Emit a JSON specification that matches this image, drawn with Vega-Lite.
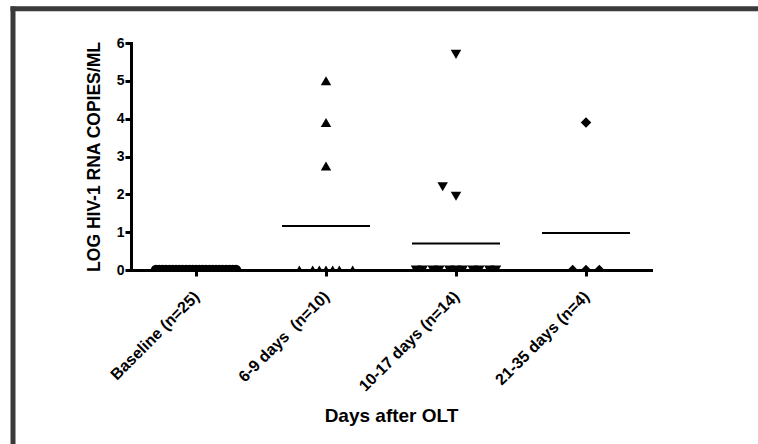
{
  "$schema": "https://vega.github.io/schema/vega-lite/v6.json",
  "width": 758,
  "height": 444,
  "autosize": {"type": "none"},
  "padding": 0,
  "background": "white",
  "config": {
    "view": {"fill": "white", "stroke": null},
    "font": "Liberation Sans",
    "axis": {
      "domainColor": "black", "domainWidth": 3, "tickColor": "black", "tickWidth": 3,
      "labelColor": "black", "titleColor": "black", "labelFontWeight": "bold",
      "titleFontWeight": "bold", "grid": false, "domainCap": "square"
    }
  },
  "datasets": {
    "pts": [
      {"group": "Baseline (n=25)", "log_rna": 0, "jitter": -12},
      {"group": "Baseline (n=25)", "log_rna": 0, "jitter": -11},
      {"group": "Baseline (n=25)", "log_rna": 0, "jitter": -10},
      {"group": "Baseline (n=25)", "log_rna": 0, "jitter": -9},
      {"group": "Baseline (n=25)", "log_rna": 0, "jitter": -8},
      {"group": "Baseline (n=25)", "log_rna": 0, "jitter": -7},
      {"group": "Baseline (n=25)", "log_rna": 0, "jitter": -6},
      {"group": "Baseline (n=25)", "log_rna": 0, "jitter": -5},
      {"group": "Baseline (n=25)", "log_rna": 0, "jitter": -4},
      {"group": "Baseline (n=25)", "log_rna": 0, "jitter": -3},
      {"group": "Baseline (n=25)", "log_rna": 0, "jitter": -2},
      {"group": "Baseline (n=25)", "log_rna": 0, "jitter": -1},
      {"group": "Baseline (n=25)", "log_rna": 0, "jitter": 0},
      {"group": "Baseline (n=25)", "log_rna": 0, "jitter": 1},
      {"group": "Baseline (n=25)", "log_rna": 0, "jitter": 2},
      {"group": "Baseline (n=25)", "log_rna": 0, "jitter": 3},
      {"group": "Baseline (n=25)", "log_rna": 0, "jitter": 4},
      {"group": "Baseline (n=25)", "log_rna": 0, "jitter": 5},
      {"group": "Baseline (n=25)", "log_rna": 0, "jitter": 6},
      {"group": "Baseline (n=25)", "log_rna": 0, "jitter": 7},
      {"group": "Baseline (n=25)", "log_rna": 0, "jitter": 8},
      {"group": "Baseline (n=25)", "log_rna": 0, "jitter": 9},
      {"group": "Baseline (n=25)", "log_rna": 0, "jitter": 10},
      {"group": "Baseline (n=25)", "log_rna": 0, "jitter": 11},
      {"group": "Baseline (n=25)", "log_rna": 0, "jitter": 12},
      {"group": "6-9 days \u00a0(n=10)", "log_rna": 5.0, "jitter": 0},
      {"group": "6-9 days \u00a0(n=10)", "log_rna": 3.9, "jitter": 0},
      {"group": "6-9 days \u00a0(n=10)", "log_rna": 2.75, "jitter": 0},
      {"group": "6-9 days \u00a0(n=10)", "log_rna": 0, "jitter": -8},
      {"group": "6-9 days \u00a0(n=10)", "log_rna": 0, "jitter": -4},
      {"group": "6-9 days \u00a0(n=10)", "log_rna": 0, "jitter": -2},
      {"group": "6-9 days \u00a0(n=10)", "log_rna": 0, "jitter": 0},
      {"group": "6-9 days \u00a0(n=10)", "log_rna": 0, "jitter": 2},
      {"group": "6-9 days \u00a0(n=10)", "log_rna": 0, "jitter": 4},
      {"group": "6-9 days \u00a0(n=10)", "log_rna": 0, "jitter": 8},
      {"group": "10-17 days (n=14)", "log_rna": 5.7, "jitter": 0},
      {"group": "10-17 days (n=14)", "log_rna": 2.2, "jitter": -4},
      {"group": "10-17 days (n=14)", "log_rna": 1.95, "jitter": 0},
      {"group": "10-17 days (n=14)", "log_rna": 0, "jitter": -12},
      {"group": "10-17 days (n=14)", "log_rna": 0, "jitter": -10},
      {"group": "10-17 days (n=14)", "log_rna": 0, "jitter": -7},
      {"group": "10-17 days (n=14)", "log_rna": 0, "jitter": -5},
      {"group": "10-17 days (n=14)", "log_rna": 0, "jitter": -2},
      {"group": "10-17 days (n=14)", "log_rna": 0, "jitter": 0},
      {"group": "10-17 days (n=14)", "log_rna": 0, "jitter": 2},
      {"group": "10-17 days (n=14)", "log_rna": 0, "jitter": 5},
      {"group": "10-17 days (n=14)", "log_rna": 0, "jitter": 7},
      {"group": "10-17 days (n=14)", "log_rna": 0, "jitter": 10},
      {"group": "10-17 days (n=14)", "log_rna": 0, "jitter": 12},
      {"group": "21-35 days (n=4)", "log_rna": 3.9, "jitter": 0},
      {"group": "21-35 days (n=4)", "log_rna": 0, "jitter": -4},
      {"group": "21-35 days (n=4)", "log_rna": 0, "jitter": 0},
      {"group": "21-35 days (n=4)", "log_rna": 0, "jitter": 4}
    ],
    "below": [{"lo": -6, "hi": 0}],
    "frame": [{"fx": 0, "fy": 0}, {"fx": 1, "fy": 1}]
  },
  "resolve": {"scale": {"x": "independent", "y": "independent"}, "axis": {"x": "independent", "y": "independent"}},
  "layer": [
    {
      "data": {"name": "frame"},
      "mark": {"type": "point", "opacity": 0},
      "encoding": {
        "x": {
          "field": "fx", "type": "quantitative",
          "scale": {"domain": [0, 1], "range": [10, 758], "nice": false, "zero": false},
          "axis": {"orient": "top", "offset": -8.3, "domainColor": "#3a3a3a", "domainWidth": 5,
                   "domainCap": "butt", "ticks": false, "labels": false, "title": null, "zindex": 2}
        },
        "y": {
          "field": "fy", "type": "quantitative",
          "scale": {"domain": [0, 1], "range": [444, 6], "nice": false, "zero": false},
          "axis": {"orient": "left", "offset": -12.5, "domainColor": "#3a3a3a", "domainWidth": 5,
                   "domainCap": "butt", "ticks": false, "labels": false, "title": null, "zindex": 2}
        }
      }
    },
    {
      "layer": [
        {
          "data": {"name": "pts"},
          "mark": {"type": "point", "filled": true, "size": 110, "color": "black", "opacity": 1},
          "encoding": {
            "x": {
              "field": "group", "type": "nominal",
              "sort": ["Baseline (n=25)", "6-9 days \u00a0(n=10)", "10-17 days (n=14)", "21-35 days (n=4)"],
              "scale": {"range": [131, 651], "paddingInner": 0, "paddingOuter": 0},
              "axis": {
                "orient": "bottom",
                "title": "Days after OLT", "offset": -174, "labelAngle": 315, "zindex": 1,
                "labelFontSize": 16, "titleFontSize": 19, "tickSize": 6, "labelPadding": 12,
                "labelOffset": -5, "titlePadding": 13
              }
            },
            "xOffset": {"field": "jitter", "type": "quantitative", "scale": {"domain": [-19.5, 19.5]}},
            "y": {
              "field": "log_rna", "type": "quantitative",
              "scale": {"domain": [0, 6], "range": [270, 43], "nice": false, "zero": false},
              "axis": {
                "orient": "left",
                "title": "LOG HIV-1 RNA COPIES/ML", "offset": -131, "values": [0, 1, 2, 3, 4, 5, 6],
                "format": "d", "zindex": 1,
                "labelFontSize": 14, "titleFontSize": 17.5, "tickSize": 6, "labelPadding": 1,
                "titlePadding": 13
              }
            },
            "shape": {
              "field": "group", "type": "nominal",
              "scale": {
                "domain": ["Baseline (n=25)", "6-9 days \u00a0(n=10)", "10-17 days (n=14)", "21-35 days (n=4)"],
                "range": ["circle", "triangle-up", "triangle-down", "diamond"]
              },
              "legend": null
            }
          }
        },
        {
          "data": {"name": "pts"},
          "mark": {"type": "tick", "size": 88, "thickness": 2, "color": "black", "opacity": 1},
          "encoding": {
            "x": {"field": "group", "type": "nominal", "sort": ["Baseline (n=25)", "6-9 days \u00a0(n=10)", "10-17 days (n=14)", "21-35 days (n=4)"]},
            "y": {"field": "log_rna", "type": "quantitative", "aggregate": "mean"}
          }
        },
        {
          "data": {"name": "below"},
          "mark": {"type": "rect", "fill": "white"},
          "encoding": {
            "y": {"field": "hi", "type": "quantitative"},
            "y2": {"field": "lo"}
          }
        }
      ]
    }
  ]
}
